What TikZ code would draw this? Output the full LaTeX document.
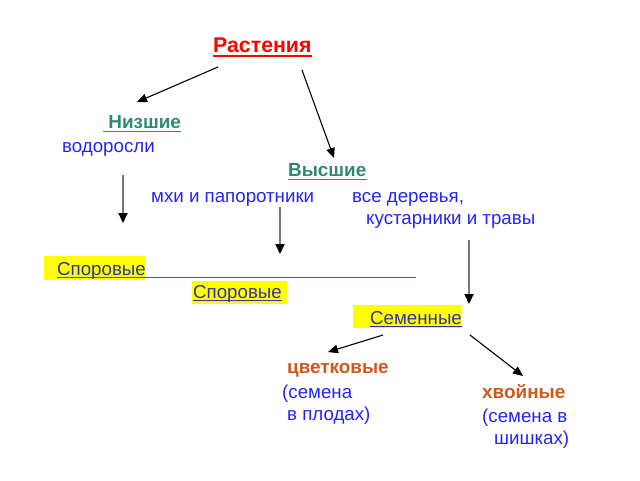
\documentclass[tikz,border=0pt]{standalone}
\usepackage{fontspec}
\setmainfont{Liberation Sans}
\usetikzlibrary{arrows.meta}
\definecolor{tred}{RGB}{255,0,0}
\definecolor{tteal}{RGB}{46,139,112}
\definecolor{tblue}{RGB}{35,35,245}
\definecolor{tdblue}{RGB}{50,50,170}
\definecolor{torange}{RGB}{205,88,32}
\definecolor{tline}{RGB}{70,70,220}
\definecolor{tgray}{RGB}{120,120,120}
\definecolor{thl}{RGB}{255,255,0}
\tikzset{
  txt/.style={inner sep=0pt, anchor=base west, font=\fontsize{18.7}{22}\selectfont},
  btxt/.style={txt, font=\fontsize{18.9}{22}\bfseries},
  bluetxt/.style={txt, text=tblue},
  sporetxt/.style={txt, text=tdblue},
  grouptxt/.style={btxt, text=tteal},
  kindtxt/.style={btxt, text=torange},
  arr/.style={-{Triangle[length=10pt,width=8.5pt]}, line width=1.1pt, black},
  varr/.style={-{Triangle[length=10pt,width=9pt,black]}, line width=2pt, draw=tgray},
  uline/.style={line width=1.3pt}
}
\begin{document}
\begin{tikzpicture}[x=1pt,y=-1pt]
\useasboundingbox (0,0) rectangle (640,480);
% highlight boxes
\fill[thl] (44,256) rectangle (145,280);
\fill[thl] (192,281) rectangle (287,304);
\fill[thl] (353,305) rectangle (461,328);
% texts
\node[btxt, text=tred, font=\fontsize{21.3}{24}\bfseries] (rast) at (213,52) {Растения};
\node[grouptxt] (nizh) at (103,128) {\ Низшие};
\node[bluetxt] (vodor) at (62,152) {водоросли};
\node[grouptxt] (vys) at (288,176) {Высшие\ };
\node[bluetxt] (mhi) at (151,202) {мхи и папоротники};
\node[bluetxt] (vse) at (352,202) {все деревья,};
\node[bluetxt] (kust) at (366,224) {кустарники и травы};
\node[sporetxt] (spor1) at (57,275) {Споровые};
\node[sporetxt] (spor2) at (193,298) {Споровые};
\node[sporetxt] (sem) at (370,324) {Семенные};
\node[kindtxt] (cvet) at (287,373) {цветковые};
\node[bluetxt] (cvet1) at (282,398) {(семена};
\node[bluetxt] (cvet2) at (287,420) {в плодах)};
\node[kindtxt] (hvoy) at (482,398) {хвойные};
\node[bluetxt] (hvoy1) at (482,422) {(семена в};
\node[bluetxt] (hvoy2) at (494,444) {шишках)};
% underlines
\draw[uline, tred, line width=2pt] ([yshift=-4]rast.base west) -- ([yshift=-4]rast.base east);
\draw[uline, tteal] ([yshift=-3.5]nizh.base west) -- ([yshift=-3.5]nizh.base east);
\draw[uline, tteal] ([yshift=-3.5]vys.base west) -- ([yshift=-3.5]vys.base east);
\draw[uline, tline] ([yshift=-2.5]spor1.base west) -- ++(359,0) coordinate (sporend);
\draw[uline, tdblue] ([yshift=-2.5]spor2.base west) -- ([yshift=-2.5]spor2.base east);
\draw[uline, tdblue] ([yshift=-2.5]sem.base west) -- ([yshift=-2.5]sem.base east);
% arrow coordinates
\coordinate (a1s) at (218,67);  \coordinate (a1e) at (137,102);
\coordinate (a2s) at (302,70);  \coordinate (a2e) at (334,158);
\coordinate (a3s) at (123,175); \coordinate (a3e) at (123,223);
\coordinate (a4s) at (280,207); \coordinate (a4e) at (280,254);
\coordinate (a5s) at (469,240); \coordinate (a5e) at (469,304);
\coordinate (a6s) at (383,335); \coordinate (a6e) at (328,352);
\coordinate (a7s) at (470,335); \coordinate (a7e) at (523,376);
\draw[arr] (a1s) -- (a1e);
\draw[arr] (a2s) -- (a2e);
\draw[varr] (a3s) -- (a3e);
\draw[varr] (a4s) -- (a4e);
\draw[varr] (a5s) -- (a5e);
\draw[arr] (a6s) -- (a6e);
\draw[arr] (a7s) -- (a7e);
\end{tikzpicture}
\end{document}
